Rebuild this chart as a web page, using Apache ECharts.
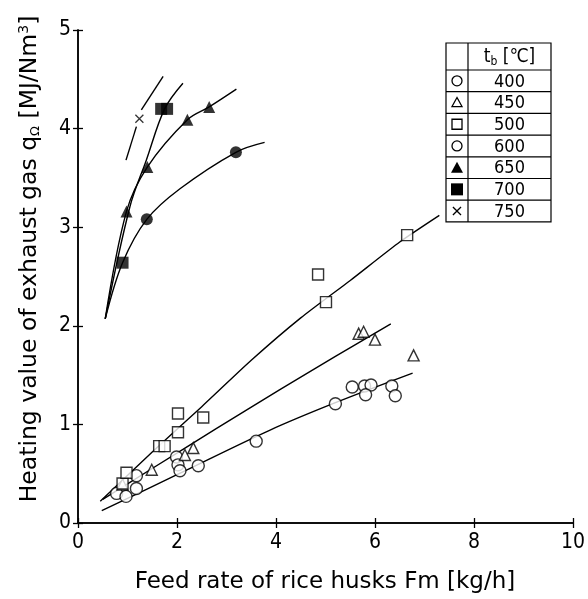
<!DOCTYPE html>
<html><head><meta charset="utf-8">
<script src="https://cdn.jsdelivr.net/npm/echarts@6/dist/echarts.min.js"></script>
<style>html,body{margin:0;padding:0;background:#fff}#c{width:588px;height:599px}</style>
</head><body><div id="c"></div>
<script>
// ---- data ----
const xTicks = [0, 2, 4, 6, 8, 10];
const yTicks = [0, 1, 2, 3, 4, 5];
const temps = ['400', '450', '500', '600', '650', '700', '750'];

const pts400 = [[0.78,0.30],[0.97,0.27],[1.18,0.35],[1.18,0.48],[1.99,0.67],[2.02,0.59],[2.06,0.53],[2.43,0.58],[3.60,0.83],[5.20,1.21],[5.54,1.38],[5.79,1.39],[5.92,1.40],[5.81,1.30],[6.34,1.39],[6.41,1.29]];
const pts450 = [[0.90,0.39],[1.49,0.54],[2.16,0.69],[2.33,0.76],[5.67,1.92],[5.77,1.94],[6.00,1.86],[6.78,1.70]];
const pts500 = [[0.90,0.40],[0.98,0.51],[1.64,0.78],[1.75,0.78],[2.02,0.92],[2.02,1.11],[2.53,1.07],[4.85,2.52],[5.01,2.24],[6.65,2.92]];
const pts600 = [[1.39,3.08],[3.19,3.76]];
const pts650 = [[0.98,3.16],[1.40,3.61],[2.21,4.09],[2.65,4.22]];
const pts700 = [[0.90,2.64],[1.68,4.20],[1.80,4.20]];
const pts750 = [[1.24,4.10]];

const fit400 = [[0.48,0.125],[2.0,0.49],[3.87,0.94],[5.2,1.22],[6.76,1.52]];
const fit450 = [[0.5,0.24],[1.49,0.55],[2.8,0.96],[4.07,1.35],[5.2,1.69],[6.32,2.02]];
const fit500 = [[0.45,0.22],[1.5,0.72],[2.5,1.18],[3.5,1.65],[4.5,2.08],[5.5,2.46],[6.5,2.85],[7.3,3.12]];
const fit600 = [[0.55,2.07],[0.9,2.64],[1.39,3.08],[2.06,3.39],[3.19,3.76],[3.77,3.86]];
const fit650 = [[0.55,2.07],[0.98,3.16],[1.40,3.61],[2.21,4.09],[2.65,4.22],[3.2,4.40]];
const fit700 = [[0.55,2.07],[1.05,3.21],[1.38,3.68],[1.75,4.20],[2.12,4.46]];
const fit750a = [[0.97,3.68],[1.18,4.02]];
const fit750b = [[1.28,4.19],[1.72,4.53]];

// ---- chart ----
const chart = echarts.init(document.getElementById('c'), null, {renderer:'canvas'});
const numFont = "'Liberation Sans Narrow','DejaVu Sans Condensed','Liberation Sans',Arial,sans-serif";
const txtFont = "'DejaVu Sans','Liberation Sans',sans-serif";
const lineStyle = {color:'#000', width:1.4};

function fitSeries(d, sm){
  return {type:'line', data:d, smooth:(sm===undefined?0.35:sm), showSymbol:false, symbol:'none', lineStyle:lineStyle, z:2, silent:true};
}
function ptSeries(d, symbol, filled, size){
  return {type:'scatter', data:d, symbol:symbol, symbolSize:size,
    itemStyle:{color: filled ? '#000' : '#fff', borderColor:'#000', borderWidth: filled ? 0 : 1.4}, z:3};
}
const crossPath = 'path://M0,0L10,10M10,0L0,10';

const axisCommon = {
  type:'value', axisLine:{show:true, lineStyle:{color:'#000', width:1.5}},
  axisTick:{show:true, inside:true, length:5, lineStyle:{color:'#000', width:1.3}},
  splitLine:{show:false}
};

// legend table geometry
const tL = 446, tR = 551, tT = 43, hB = 70, rowH = 21.7, divX = 468;
const graphics = [];
graphics.push({type:'rect', shape:{x:tL, y:tT, width:tR-tL, height:hB-tT+rowH*7}, style:{fill:'#fff', stroke:'#000', lineWidth:1.2}, z:10});
graphics.push({type:'line', shape:{x1:divX, y1:tT, x2:divX, y2:hB+rowH*7}, style:{stroke:'#000', lineWidth:1.2}, z:11});
for (let i=0;i<7;i++){
  const y = hB + rowH*i;
  graphics.push({type:'line', shape:{x1:tL, y1:y, x2:tR, y2:y}, style:{stroke:'#000', lineWidth:1.2}, z:11});
  graphics.push({type:'text', x:(divX+tR)/2, y:y+rowH/2+1, style:{text:temps[i], font:"18px "+numFont, fill:'#000', align:'center', verticalAlign:'middle'}, z:12});
}
graphics.push({type:'text', x:(divX+tR)/2, y:(tT+hB)/2+1,
  style:{text:'{t|t}{s|b}{t| [℃]}', align:'center', verticalAlign:'middle',
    rich:{t:{font:"19px "+numFont, fill:'#000'}, s:{font:"12px "+numFont, fill:'#000', verticalAlign:'bottom', padding:[8,0,0,0]}}}, z:12});
const mx = (tL+divX)/2;
function rowC(i){ return hB + rowH*i + rowH/2; }
graphics.push({type:'circle', shape:{cx:mx, cy:rowC(0), r:5}, style:{fill:'#fff', stroke:'#000', lineWidth:1.3}, z:12});
graphics.push({type:'polygon', shape:{points:[[mx,rowC(1)-5],[mx+5,rowC(1)+4],[mx-5,rowC(1)+4]]}, style:{fill:'#fff', stroke:'#000', lineWidth:1.3}, z:12});
graphics.push({type:'rect', shape:{x:mx-5, y:rowC(2)-5, width:10, height:10}, style:{fill:'#fff', stroke:'#000', lineWidth:1.3}, z:12});
graphics.push({type:'circle', shape:{cx:mx, cy:rowC(3), r:5}, style:{fill:'#fff', stroke:'#000', lineWidth:1.3}, z:12});
graphics.push({type:'polygon', shape:{points:[[mx,rowC(4)-6],[mx+6,rowC(4)+5],[mx-6,rowC(4)+5]]}, style:{fill:'#000'}, z:12});
graphics.push({type:'rect', shape:{x:mx-6, y:rowC(5)-6, width:12, height:12}, style:{fill:'#000'}, z:12});
graphics.push({type:'text', x:mx, y:rowC(6)+1, style:{text:'×', font:"16px "+txtFont, fill:'#000', align:'center', verticalAlign:'middle'}, z:12});

// axis titles
graphics.push({type:'text', x:325, y:582, style:{text:'Feed rate of rice husks Fm [kg/h]', font:"23px "+txtFont, fill:'#000', align:'center', verticalAlign:'middle'}});
graphics.push({type:'text', x:30, y:259, rotation:Math.PI/2,
  style:{text:'{a|Heating value of exhaust gas q}{s|Ω}{a| [MJ/Nm}{p|3}{a|]}', align:'center', verticalAlign:'middle',
    rich:{a:{font:"23.5px "+txtFont, fill:'#000'}, s:{font:"13px "+txtFont, fill:'#000', padding:[12,0,0,0]}, p:{font:"14px "+txtFont, fill:'#000', padding:[0,0,12,0]}}}});

const option = {
  backgroundColor:'#fff',
  animation:false,
  grid:{left:78, right:14, top:30, bottom:76, containLabel:false},
  xAxis:[
    Object.assign({}, axisCommon, {min:xTicks[0], max:xTicks[xTicks.length-1], interval:2, position:'bottom',
      axisLabel:{show:true, margin:9, color:'#000', fontSize:21, fontFamily:numFont}}),
    Object.assign({}, axisCommon, {min:xTicks[0], max:xTicks[xTicks.length-1], interval:2, position:'top', axisLabel:{show:false}})
  ],
  yAxis:[
    Object.assign({}, axisCommon, {min:yTicks[0], max:yTicks[yTicks.length-1], interval:1, position:'left',
      axisLabel:{show:true, margin:7, color:'#000', fontSize:21, fontFamily:numFont}}),
    Object.assign({}, axisCommon, {min:yTicks[0], max:yTicks[yTicks.length-1], interval:1, position:'right', axisLabel:{show:false}})
  ],
  graphic: graphics,
  series:[
    fitSeries(fit400), fitSeries(fit450, 0.2), fitSeries(fit500, 0.2),
    fitSeries(fit600), fitSeries(fit650), fitSeries(fit700), fitSeries(fit750a), fitSeries(fit750b),
    ptSeries(pts400,'circle',false,12),
    ptSeries(pts450,'triangle',false,11),
    ptSeries(pts500,'rect',false,11),
    ptSeries(pts600,'circle',true,12),
    ptSeries(pts650,'triangle',true,12),
    ptSeries(pts700,'rect',true,12),
    {type:'scatter', data:pts750, symbol:crossPath, symbolSize:8, itemStyle:{color:'none', borderColor:'#000', borderWidth:1.3}, z:3}
  ]
};
chart.setOption(option);
</script></body></html>
